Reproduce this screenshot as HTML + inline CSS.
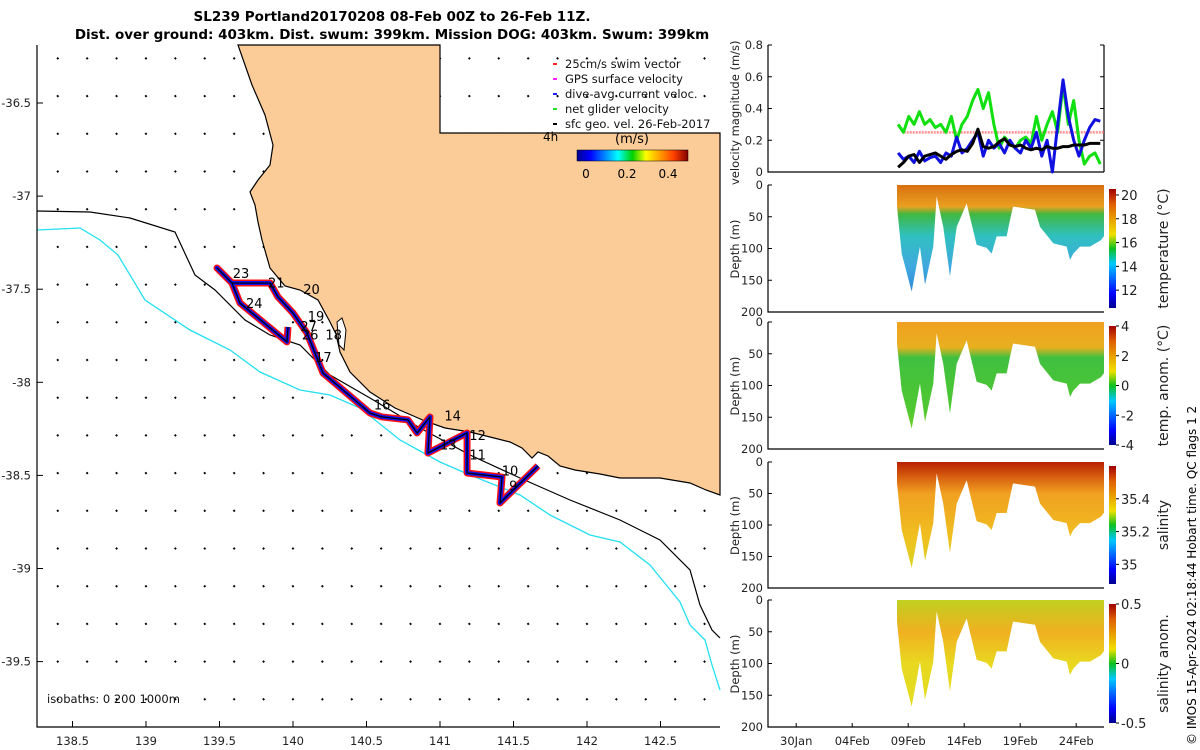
<!DOCTYPE html>
<html><head><meta charset="utf-8">
<style>
html,body{margin:0;padding:0;background:#fff;}
svg{display:block;font-family:"DejaVu Sans","Liberation Sans",sans-serif;}
</style></head>
<body>
<svg id="fig" width="1200" height="750" viewBox="0 0 1200 750" xmlns="http://www.w3.org/2000/svg">
<defs>
<linearGradient id="jetH" x1="0" y1="0" x2="1" y2="0">
<stop offset="0" stop-color="#00008f"/><stop offset="0.12" stop-color="#0000ff"/><stop offset="0.37" stop-color="#00ffff"/><stop offset="0.5" stop-color="#00d000"/><stop offset="0.62" stop-color="#ffff00"/><stop offset="0.87" stop-color="#ff4000"/><stop offset="1" stop-color="#800000"/>
</linearGradient>
<linearGradient id="jetV" x1="0" y1="1" x2="0" y2="0">
<stop offset="0" stop-color="#00008f"/><stop offset="0.12" stop-color="#0000ff"/><stop offset="0.37" stop-color="#00c8ff"/><stop offset="0.5" stop-color="#10c020"/><stop offset="0.62" stop-color="#f0e000"/><stop offset="0.87" stop-color="#e06000"/><stop offset="1" stop-color="#a00000"/>
</linearGradient>
<linearGradient id="gTemp" gradientUnits="userSpaceOnUse" x1="0" y1="185" x2="0" y2="312">
<stop offset="0" stop-color="#d87010"/><stop offset="0.17" stop-color="#eaa020"/><stop offset="0.23" stop-color="#40b840"/><stop offset="0.4" stop-color="#30c0c0"/><stop offset="0.65" stop-color="#40a8e0"/><stop offset="1" stop-color="#2070d0"/>
</linearGradient>
<linearGradient id="gAnom" gradientUnits="userSpaceOnUse" x1="0" y1="322" x2="0" y2="449">
<stop offset="0" stop-color="#f0a020"/><stop offset="0.2" stop-color="#e8b020"/><stop offset="0.28" stop-color="#40c040"/><stop offset="0.7" stop-color="#50c830"/><stop offset="1" stop-color="#90d820"/>
</linearGradient>
<linearGradient id="gSal" gradientUnits="userSpaceOnUse" x1="0" y1="462" x2="0" y2="588">
<stop offset="0" stop-color="#b82000"/><stop offset="0.12" stop-color="#d86010"/><stop offset="0.25" stop-color="#f0a020"/><stop offset="0.6" stop-color="#f0c020"/><stop offset="1" stop-color="#c8e020"/>
</linearGradient>
<linearGradient id="gSalA" gradientUnits="userSpaceOnUse" x1="0" y1="600" x2="0" y2="727">
<stop offset="0" stop-color="#c0d020"/><stop offset="0.25" stop-color="#f0b020"/><stop offset="0.5" stop-color="#e8d820"/><stop offset="1" stop-color="#e0e020"/>
</linearGradient>
</defs>

<text x="392" y="21" font-size="13.5" font-weight="bold" text-anchor="middle">SL239 Portland20170208 08-Feb 00Z to 26-Feb 11Z.</text>
<text x="392" y="39" font-size="13.5" font-weight="bold" text-anchor="middle">Dist. over ground: 403km. Dist. swum: 399km. Mission DOG: 403km. Swum: 399km</text>

<g id="map"></g>
<g id="right"></g>

<text transform="translate(1196,745) rotate(-90)" font-size="12">© IMOS 15-Apr-2024 02:18:44 Hobart time. QC flags 1  2</text>
</svg>
<script>
// ---------- data ----------
const trackLon = [141.667,141.408,141.422,141.184,141.184,140.918,140.932,140.844,140.782,140.605,140.524,140.204,140.095,140.0,139.898,139.844,139.585,139.483,139.585,139.639,139.959,139.966];
const trackLat = [-38.449,-38.648,-38.509,-38.487,-38.272,-38.380,-38.186,-38.272,-38.202,-38.186,-38.165,-37.950,-37.735,-37.628,-37.542,-37.467,-37.467,-37.386,-37.467,-37.574,-37.783,-37.703];
const lonTicks = [138.5,139,139.5,140,140.5,141,141.5,142,142.5];
const latTicks = [-36.5,-37,-37.5,-38,-38.5,-39,-39.5];
const dayLabels = ['9','10','11','12','13','14','16','17','18','19','20','21','23','24','26','27'];
const dayLabelLon = [141.47,141.42,141.2,141.2,141.0,141.03,140.55,140.15,140.22,140.1,140.07,139.83,139.59,139.68,140.06,140.05];
const dayLabelLat = [-38.58,-38.5,-38.415,-38.31,-38.36,-38.205,-38.145,-37.89,-37.77,-37.67,-37.525,-37.49,-37.44,-37.6,-37.77,-37.725];

// time series (days since 08-Feb 00Z)
const tStep = 0.475;
const greenVel = [0.30,0.25,0.35,0.30,0.38,0.30,0.33,0.28,0.30,0.25,0.35,0.20,0.30,0.35,0.45,0.52,0.40,0.50,0.30,0.15,0.22,0.18,0.15,0.20,0.22,0.18,0.35,0.20,0.30,0.38,0.25,0.55,0.30,0.45,0.20,0.05,0.10,0.12,0.05];
const blueVel  = [0.12,0.08,0.10,0.06,0.13,0.07,0.09,0.10,0.06,0.12,0.10,0.22,0.12,0.15,0.20,0.25,0.10,0.20,0.15,0.18,0.12,0.20,0.15,0.12,0.20,0.15,0.25,0.10,0.20,0.00,0.30,0.58,0.35,0.20,0.10,0.20,0.28,0.33,0.32];
const blackVel = [0.03,0.06,0.10,0.11,0.06,0.10,0.11,0.12,0.10,0.08,0.11,0.13,0.14,0.13,0.18,0.27,0.16,0.15,0.16,0.19,0.21,0.17,0.16,0.17,0.15,0.14,0.15,0.14,0.16,0.15,0.15,0.16,0.16,0.17,0.17,0.17,0.18,0.18,0.18];
const swimSpeed = 0.25;
const velTicks = [0,0.2,0.4,0.6,0.8];
const diveDay = [0,0.42,1.31,2.05,2.5,3.24,3.54,4.13,4.73,5.33,6.22,7.11,8.0,8.45,8.9,9.79,10.09,10.36,12.32,12.77,13.96,15.15,15.45,15.74,16.34,17.23,18.2,18.46];
const diveDepth = [34,108,168,97,157,97,18,66,144,66,29,94,99,108,81,81,55,34,39,66,92,97,118,108,97,97,87,81];
const depthTicks = [0,50,100,150,200];
const dateLabels = ['30Jan','04Feb','09Feb','14Feb','19Feb','24Feb'];
const dateDays = [-9,-4,1,6,11,16];
const tempCbTicks = [12,14,16,18,20];
const anomCbTicks = [-4,-2,0,2,4];
const salCbTicks = [35,35.2,35.4];
const salACbTicks = [-0.5,0,0.5];

// ---------- helpers ----------
const NS='http://www.w3.org/2000/svg';
function mk(tag,attrs,parent){const e=document.createElementNS(NS,tag);for(const k in attrs)e.setAttribute(k,attrs[k]);parent.appendChild(e);return e;}
const map=document.getElementById('map');
const right=document.getElementById('right');
const MX0=37,MX1=720,MY0=45,MY1=727;
const px=lon=>72.5+(lon-138.5)*147;
const py=lat=>103+(-36.5-lat)*186.2;
const TF=11.5;

// ---------- map ----------
let e;
for(let yy=59;yy<MY1;yy+=37.7){for(let xx=57;xx<MX1;xx+=29.4){
  e=mk('line',{x1:xx,y1:yy,x2:xx+1.5,y2:yy-1.2,stroke:'#000','stroke-width':2},map);
  
  
}}
e=mk('path',{d:'M238,45 L440,45 L440,133 L720,133 L720,495 L706,490 L690,483 L660,478 L620,478 L600,474 L575,470 L560,466 L548,456 L538,452 L532,458 L522,448 L510,442 L490,437 L470,432 L445,428 L425,421 L395,408 L370,392 L350,372 L340,352 L336,334 L330,322 L318,300 L300,290 L285,286 L270,268 L262,240 L258,222 L255,205 L250,192 L258,180 L270,165 L273,145 L265,115 L252,85 Z',fill:'#fccc98',stroke:'#000','stroke-width':1.2},map);


e=mk('path',{d:'M337,322 L342,318 L346,330 L344,350 L339,345 Z',fill:'#fff',stroke:'#000','stroke-width':1},map);


e=mk('path',{d:'M37,230 L80,228 L100,240 L118,255 L145,300 L190,330 L230,350 L260,372 L300,390 L330,395 L360,408 L400,440 L440,462 L470,475 L520,495 L550,515 L590,535 L620,542 L650,565 L680,602 L690,625 L705,640 L712,665 L720,690',fill:'none',stroke:'#22e0f0','stroke-width':1.3},map);


e=mk('path',{d:'M37,211 L90,212 L130,218 L175,232 L195,275 L215,290 L245,320 L270,335 L300,345 L330,375 L370,398 L420,428 L470,455 L520,478 L570,500 L620,520 L660,540 L690,570 L700,605 L712,630 L720,638',fill:'none',stroke:'#000','stroke-width':1.2},map);


const pts=trackLon.map((l,i)=>px(l)+','+py(trackLat[i])).join(' ');
e=mk('polyline',{points:pts,fill:'none',stroke:'#ff1010','stroke-width':7,'stroke-linejoin':'round'},map);


e=mk('polyline',{points:pts,fill:'none',stroke:'#1010ee','stroke-width':4,'stroke-linejoin':'round'},map);


e=mk('polyline',{points:pts,fill:'none',stroke:'#000','stroke-width':1.2,'stroke-linejoin':'round'},map);


dayLabels.forEach((t,i)=>{
  e=mk('text',{x:px(dayLabelLon[i]),y:py(dayLabelLat[i]),'font-size':13},map);e.textContent=t;
  
  
});
e=mk('path',{d:`M${MX0},${MY0} L${MX0},${MY1} L${MX1},${MY1}`,fill:'none',stroke:'#000','stroke-width':1.2},map);


lonTicks.forEach(v=>{const x=px(v);
  mk('line',{x1:x,y1:MY1,x2:x,y2:MY1-6,stroke:'#000'},map);
  e=mk('text',{x:x,y:745,'font-size':TF,'text-anchor':'middle',fill:'#222'},map);e.textContent=v;
  
  
});
latTicks.forEach(v=>{const y=py(v);
  mk('line',{x1:MX0,y1:y,x2:MX0+6,y2:y,stroke:'#000'},map);
  e=mk('text',{x:31,y:y+4,'font-size':TF,'text-anchor':'end',fill:'#222'},map);e.textContent=v;
  
  
});
e=mk('text',{x:47,y:703,'font-size':TF,fill:'#111'},map);e.textContent='isobaths: 0   200  1000m';


const legT=['25cm/s swim vector','GPS surface velocity','dive-avg current veloc.','net glider velocity','sfc geo. vel. 26-Feb-2017'];
const legC=['#ff2020','#ff20ff','#2020ff','#20e020','#000'];
legT.forEach((t,i)=>{const y=66+i*15;
  mk('line',{x1:553,y1:y-2,x2:557,y2:y-2,stroke:legC[i],'stroke-width':2},map);
  e=mk('text',{x:565,y:y+2,'font-size':TF,fill:'#111'},map);e.textContent=t;
  
  
});
e=mk('text',{x:543,y:141,'font-size':12},map);e.textContent='4h';


e=mk('text',{x:632,y:143,'font-size':13,'text-anchor':'middle'},map);e.textContent='(m/s)';


e=mk('rect',{x:577,y:150,width:111,height:11,fill:'url(#jetH)',stroke:'#000','stroke-width':0.5},map);


[['0',586],['0.2',627],['0.4',668]].forEach(([t,x])=>{e=mk('text',{x:x,y:178,'font-size':12,'text-anchor':'middle'},map);e.textContent=t;
  
  });

// ---------- right panels ----------
const RX0=768,RX1=1104;
const tx=d=>897+d*11.2;
const panels=[
 {y0:185,y1:312,fill:'url(#gTemp)',cb:tempCbTicks,lo:10.5,hi:20.5,lab:'temperature (°C)',name:'temperature'},
 {y0:322,y1:449,fill:'url(#gAnom)',cb:anomCbTicks,lo:-4,hi:4,lab:'temp. anom. (°C)',name:'temp-anomaly'},
 {y0:462,y1:588,fill:'url(#gSal)',cb:salCbTicks,lo:34.88,hi:35.6,lab:'salinity',name:'salinity'},
 {y0:600,y1:727,fill:'url(#gSalA)',cb:salACbTicks,lo:-0.5,hi:0.5,lab:'salinity anom.',name:'salinity-anomaly'}];
const VY0=45,VY1=172;
const vy=v=>VY1-v*(VY1-VY0)/0.8;
e=mk('path',{d:`M${RX0},${VY0} L${RX0},${VY1} L${RX1},${VY1} M${RX1},${VY0} L${RX1},${VY1}`,fill:'none',stroke:'#000','stroke-width':1.2},right);


velTicks.forEach(v=>{mk('line',{x1:RX0,y1:vy(v),x2:RX0+4,y2:vy(v),stroke:'#000'},right);mk('line',{x1:RX1,y1:vy(v),x2:RX1-4,y2:vy(v),stroke:'#000'},right);
  e=mk('text',{x:763,y:vy(v)+4,'font-size':TF,'text-anchor':'end',fill:'#222'},right);e.textContent=v;
  
  });
e=mk('line',{x1:tx(0.6),y1:vy(swimSpeed),x2:RX1,y2:vy(swimSpeed),stroke:'#ff9090','stroke-width':2.5,'stroke-dasharray':'2 1'},right);


[[greenVel,'#10e010','net-glider-velocity-line'],[blueVel,'#1010e0','dive-avg-current-line'],[blackVel,'#000','geostrophic-velocity-line']].forEach(([arr,c,n])=>{
  e=mk('polyline',{points:arr.map((v,i)=>tx(0.1+i*tStep)+','+vy(v)).join(' '),fill:'none',stroke:c,'stroke-width':3,'stroke-linejoin':'round'},right);
  
  
});
e=mk('text',{transform:'translate(739,185) rotate(-90)','font-size':11.5,fill:'#222'},right);e.textContent='velocity magnitude (m/s)';



panels.forEach(p=>{
  const dy=d=>p.y0+d*(p.y1-p.y0)/200;
  let d=`M${tx(diveDay[0])},${p.y0} `;
  diveDay.forEach((t,i)=>{d+=`L${tx(t)},${dy(diveDepth[i])} `;});
  d+=`L${RX1},${dy(diveDepth[diveDepth.length-1])} L${RX1},${p.y0} Z`;
  e=mk('path',{d:d,fill:p.fill},right);
  
  
  e=mk('path',{d:`M${RX0},${p.y0} L${RX0},${p.y1} L${RX1},${p.y1}`,fill:'none',stroke:'#000','stroke-width':1.2},right);
  
  
  depthTicks.forEach(v=>{mk('line',{x1:RX0,y1:dy(v),x2:RX0+4,y2:dy(v),stroke:'#000'},right);
    e=mk('text',{x:763,y:dy(v)+4,'font-size':TF,'text-anchor':'end',fill:'#222'},right);e.textContent=v;
    
    });
  e=mk('text',{transform:`translate(739,${(p.y0+p.y1)/2+30}) rotate(-90)`,'font-size':11.5,fill:'#222'},right);e.textContent='Depth (m)';
  
  
  const cy0=p.y0+4,cy1=p.y1-4;
  e=mk('rect',{x:1109,y:cy0,width:7,height:cy1-cy0,fill:'url(#jetV)'},right);
  
  
  p.cb.forEach(v=>{const y=cy1-(v-p.lo)/(p.hi-p.lo)*(cy1-cy0);
    mk('line',{x1:1116,y1:y,x2:1119,y2:y,stroke:'#000'},right);
    e=mk('text',{x:1121,y:y+5,'font-size':13,fill:'#222'},right);e.textContent=v;
    
    });
  e=mk('text',{transform:`translate(1168,${(p.y0+p.y1)/2}) rotate(-90)`,'font-size':14,'text-anchor':'middle',fill:'#222'},right);e.textContent=p.lab;
  
  
});
dateDays.forEach((d,i)=>{const x=tx(d);
  mk('line',{x1:x,y1:727,x2:x,y2:723,stroke:'#000'},right);
  e=mk('text',{x:x,y:745,'font-size':TF,'text-anchor':'middle',fill:'#222'},right);e.textContent=dateLabels[i];
  
  
});
</script>
</body></html>
